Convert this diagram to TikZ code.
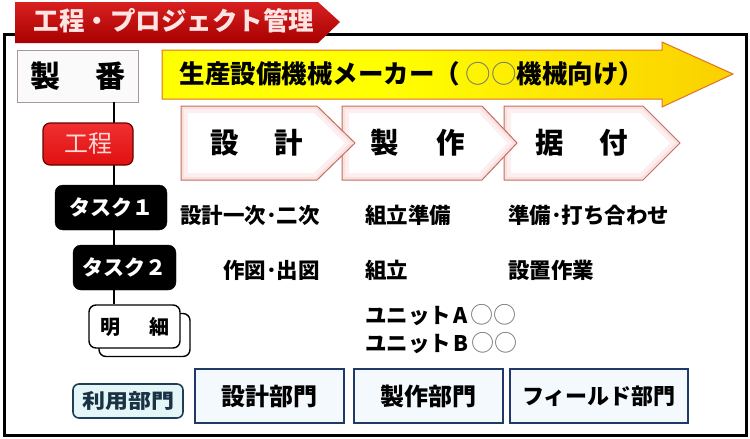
\documentclass[tikz,border=0pt]{standalone}
\usepackage{fontspec}
\setmainfont{Noto Sans CJK JP}
\usetikzlibrary{shadings}
\definecolor{bannertop}{HTML}{D82020}
\definecolor{bannerbot}{HTML}{A80000}
\definecolor{titletext}{HTML}{FFE4E4}
\definecolor{arrowyel}{HTML}{FFFF00}
\definecolor{arrowmid}{HTML}{FAC800}
\definecolor{arroworg}{HTML}{F29010}
\definecolor{arrowbord}{HTML}{E07028}
\definecolor{pborder}{HTML}{C07060}
\definecolor{pglow}{HTML}{FBE0E0}
\definecolor{kred}{HTML}{E01010}
\definecolor{kredtop}{HTML}{F03030}
\definecolor{kbord}{HTML}{6A0000}
\definecolor{ktext}{HTML}{FFD8D8}
\definecolor{navy}{HTML}{1F3A68}
\definecolor{riyoufill}{HTML}{E4F6F8}
\definecolor{riyoubord}{HTML}{1F3F55}
\definecolor{bumonfill}{HTML}{F3F9FD}
\definecolor{seibord}{HTML}{A89898}
\pgfdeclarehorizontalshading{yelorg}{100bp}{color(0bp)=(arrowyel); color(45bp)=(arrowyel); color(80bp)=(arrowmid); color(100bp)=(arroworg)}
\newcommand{\hdot}{･}
\newcommand{\circs}{\textcolor{black!55}{\mdseries\fontsize{23}{23}\selectfont ○○}}
\tikzset{
  txt/.style={inner sep=0pt, font=\bfseries\fontsize{21.5}{23}\selectfont, anchor=west},
  tasknode/.style={fill=black, draw=black, rounded corners=8pt, text=white,
     font=\bfseries\fontsize{21}{23}\selectfont, inner sep=0pt},
  bumon/.style={draw=navy, line width=2.6pt, fill=bumonfill, inner sep=0pt,
     minimum height=54pt, font=\bfseries\fontsize{24}{26}\selectfont},
  meisaibox/.style={draw=black, line width=1.4pt, fill=white, rounded corners=7pt,
     minimum width=91pt, minimum height=43pt, inner sep=0pt},
  ptext/.style={font=\bfseries\fontsize{28.5}{30}\selectfont, inner sep=0pt},
}
\begin{document}
\begin{tikzpicture}[x=1pt,y=-1pt]
\useasboundingbox (0,0) rectangle (750,439);
% main frame
\draw[line width=3pt] (4,34) rectangle (746,435);
% title banner
\path[top color=bannertop, bottom color=bannerbot]
  (15,2) -- (318,2) -- (340,22) -- (318,43) -- (15,43) -- cycle;
\node[font=\bfseries\fontsize{25.5}{27}\selectfont, text=titletext, inner sep=0pt]
  (title) at (174,21) {工程・プロジェクト管理};
% vertical connector
\coordinate (vl) at (114,102);
% seiban box
\node[draw=seibord, fill=black!2, minimum width=121pt, minimum height=52pt, inner sep=0pt,
  font=\bfseries\fontsize{30}{32}\selectfont] (seiban) at (78,76) {製\hspace{36pt}番};
% meisai boxes
\node[meisaibox] (meisaiback) at (144.5,335) {};
\node[meisaibox, font=\bfseries\fontsize{20}{22}\selectfont] (meisai) at (134.5,326.5) {明\hspace{29pt}細};
\draw[line width=2pt] (vl) -- (vl |- meisai.north);
% koutei
\node[top color=kredtop, bottom color=kred, draw=kbord, line width=1.2pt, rounded corners=7pt,
  minimum width=90pt, minimum height=42pt, inner sep=0pt, text=ktext,
  font=\fontsize{24}{26}\selectfont] (koutei) at (88,144) {工程};
% tasks
\node[tasknode, minimum width=112pt, minimum height=45pt] (task1) at (111,207.5) {タスク１};
\node[tasknode, minimum width=103pt, minimum height=45pt] (task2) at (124.5,267.5) {タスク２};
% yellow arrow
\path[shading=yelorg, draw=arrowbord, line width=1pt]
  (162,50) -- (662,50) -- (662,42) -- (733,74) -- (662,107) -- (662,99) -- (162,99) -- cycle;
\node[font=\bfseries\fontsize{25.5}{27}\selectfont, inner sep=0pt] (maker) at (412,74)
  {生産設備機械メーカー（ \textcolor{black!55}{\mdseries ○○}機械向け）};
% process pentagons
\foreach \l/\r/\t in {504/643/680, 342/482/517, 181/317/355} {
  \begin{scope}
    \clip (\l,106) -- (\r,106) -- (\t,143) -- (\r,180) -- (\l,180) -- cycle;
    \fill[white] (\l,106) -- (\r,106) -- (\t,143) -- (\r,180) -- (\l,180) -- cycle;
    \draw[line width=14pt, pglow!50] (\l,106) -- (\r,106) -- (\t,143) -- (\r,180) -- (\l,180) -- cycle;
    \draw[line width=6pt, pglow] (\l,106) -- (\r,106) -- (\t,143) -- (\r,180) -- (\l,180) -- cycle;
  \end{scope}
  \draw[pborder, line width=1pt] (\l,106) -- (\r,106) -- (\t,143) -- (\r,180) -- (\l,180) -- cycle;
}
\node[ptext] (sekkei) at (256.5,143) {設\hspace{36pt}計};
\node[ptext] (seisaku) at (418,143) {製\hspace{38pt}作};
\node[ptext] (suetsuke) at (581.5,143) {据\hspace{35pt}付};
% task texts
\node[txt] (t1) at (180,215) {設計一次\hdot 二次};
\node[txt] (t2) at (223,270) {作図\hdot 出図};
\node[txt] (t3) at (365,215) {組立準備};
\node[txt] (t4) at (365,270) {組立};
\node[txt] (t5) at (508,215) {準備\hdot 打ち合わせ};
\node[txt] (t6) at (508,270) {設置作業};
\node[txt] (t7) at (365,315) {ユニット\hspace{2pt}A\hspace{3pt}\circs};
\node[txt] (t8) at (365,343) {ユニット\hspace{2pt}B\hspace{3pt}\circs};
% departments
\node[draw=riyoubord, line width=1.6pt, fill=riyoufill, rounded corners=6pt,
  minimum width=110pt, minimum height=34pt, inner sep=0pt, text=riyoubord!80!black,
  font=\bfseries\fontsize{20}{22}\selectfont] (riyou) at (128,401) {\scalebox{1.15}[1]{利用部門}};
\node[bumon, minimum width=149pt] (b1) at (269.5,396) {設計部門};
\node[bumon, minimum width=149pt] (b2) at (428.5,396) {製作部門};
\node[bumon, minimum width=178pt, font=\bfseries\fontsize{22}{24}\selectfont] (b3) at (599,396) {フィールド部門};
\end{tikzpicture}
\end{document}
